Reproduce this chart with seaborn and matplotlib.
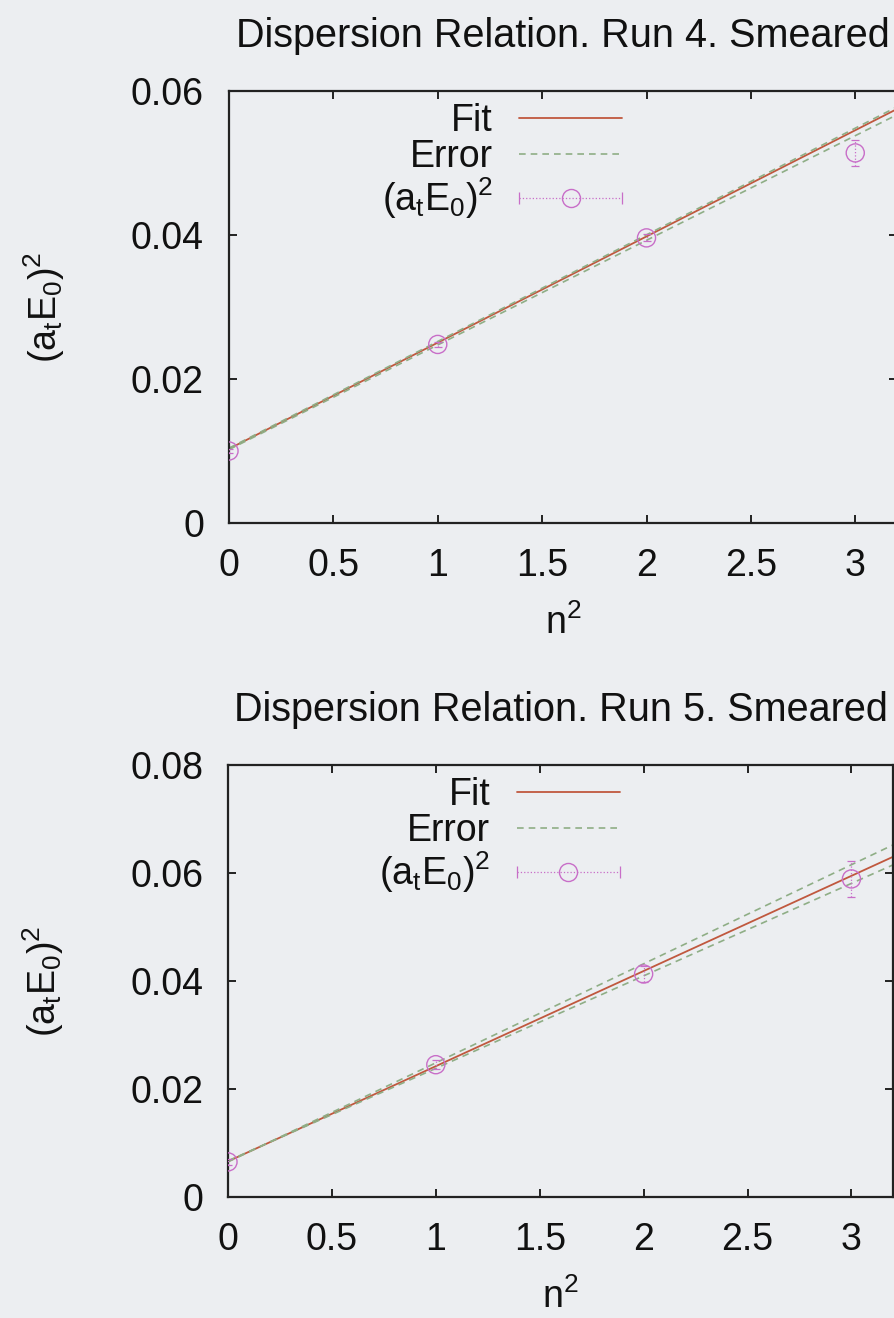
import matplotlib
matplotlib.use("Agg")
import matplotlib.pyplot as plt
import seaborn as sns
import pandas as pd
from matplotlib.lines import Line2D
from matplotlib.legend_handler import HandlerLine2D, HandlerTuple

# ---------------- data ----------------
n2 = [0, 1, 2, 3]

run4_E2 = [0.0100, 0.0248, 0.0396, 0.0514]
run4_err = [0.0003, 0.0004, 0.0005, 0.0018]
run4_fit_x = [0.0, 3.2]
run4_fit = [0.0103, 0.0575]
run4_err_lo = [0.0102, 0.0567]
run4_err_hi = [0.0104, 0.0578]

run5_E2 = [0.0065, 0.0245, 0.0413, 0.0589]
run5_err = [0.0006, 0.0008, 0.0015, 0.0034]
run5_fit_x = [0.0, 3.2]
run5_fit = [0.0066, 0.0630]
run5_err_lo = [0.0067, 0.0615]
run5_err_hi = [0.0065, 0.0652]

x_ticks = [0, 0.5, 1, 1.5, 2, 2.5, 3]
x_ticklabels = ["0", "0.5", "1", "1.5", "2", "2.5", "3"]
run4_yticks = [0, 0.02, 0.04, 0.06]
run4_yticklabels = ["0", "0.02", "0.04", "0.06"]
run5_yticks = [0, 0.02, 0.04, 0.06, 0.08]
run5_yticklabels = ["0", "0.02", "0.04", "0.06", "0.08"]

titles = ["Dispersion Relation. Run 4. Smeared", "Dispersion Relation. Run 5. Smeared"]
legend_labels = ["Fit", "Error", r"$\mathregular{(a_tE_0)^2}$"]
xlabel = r"$\mathregular{n^2}$"
ylabel = r"$\mathregular{(a_tE_0)^2}$"

# ---------------- style ----------------
BG = "#eceef1"
FIT_C = "#c0583e"
ERR_C = "#8fae86"
PT_C = "#c86ec8"
AX_C = "#222222"
TXT_C = "#111111"
FS = 27

sns.set_theme(style="ticks")
plt.rcParams["font.family"] = ["Liberation Sans", "DejaVu Sans"]
plt.rcParams["mathtext.fontset"] = "custom"
plt.rcParams["mathtext.rm"] = "Liberation Sans"
plt.rcParams["mathtext.it"] = "Liberation Sans:italic"

fig = plt.figure(figsize=(8.94, 13.18), dpi=100, facecolor=BG)
W, H = 894.0, 1318.0

# axes boxes in pixels: left, right, top, bottom
boxes = [(229, 897, 91, 523), (228, 893, 765, 1197)]

panels = [
    (run4_E2, run4_err, run4_fit_x, run4_fit, run4_err_lo, run4_err_hi,
     (0, 0.06), run4_yticks, run4_yticklabels),
    (run5_E2, run5_err, run5_fit_x, run5_fit, run5_err_lo, run5_err_hi,
     (0, 0.08), run5_yticks, run5_yticklabels),
]

for i, (box, pdata) in enumerate(zip(boxes, panels)):
    l, r, t, b = box
    ax = fig.add_axes([l / W, 1 - b / H, (r - l) / W, (b - t) / H])
    ax.set_facecolor(BG)
    E2, err, fx, fy, flo, fhi, ylim, yt, ytl = pdata

    sns.lineplot(x=fx, y=fy, color=FIT_C, linewidth=1.3, ax=ax)
    sns.lineplot(x=fx, y=flo, color=ERR_C, linewidth=1.2,
                 linestyle=(0, (4, 3)), ax=ax)
    sns.lineplot(x=fx, y=fhi, color=ERR_C, linewidth=1.2,
                 linestyle=(0, (4, 3)), ax=ax)

    eb = ax.errorbar(n2, E2, yerr=err, fmt="none", ecolor=PT_C,
                     elinewidth=0.9, capsize=3, capthick=0.9, zorder=3)
    for bl in eb[2]:
        bl.set_linestyle(":")
    df = pd.DataFrame({"n2": n2, "E2": E2})
    sns.scatterplot(data=df, x="n2", y="E2", marker="o", s=170,
                    facecolor="none", edgecolor=PT_C, linewidth=1.0,
                    zorder=4, ax=ax)

    ax.set_xlim(0, 3.2)
    ax.set_ylim(*ylim)
    ax.set_xticks(x_ticks)
    ax.set_xticklabels(x_ticklabels)
    ax.set_yticks(yt)
    ax.set_yticklabels(ytl)
    ax.tick_params(direction="in", length=6, width=1.4, top=True, right=True,
                   labelsize=FS, pad=18, colors=AX_C, labelcolor=TXT_C)
    for s in ax.spines.values():
        s.set_visible(True)
        s.set_linewidth(1.6)
        s.set_color(AX_C)

    ax.set_xlabel(xlabel, fontsize=FS, labelpad=15, color=TXT_C)
    ax.set_ylabel(ylabel, fontsize=FS, labelpad=46, color=TXT_C)
    ax.set_title(titles[i], fontsize=28.5, pad=32, color=TXT_C)

    # legend (gnuplot style: text right-aligned, sample on the right)
    h_fit = Line2D([], [], color=FIT_C, linewidth=1.3)
    h_err = Line2D([], [], color=ERR_C, linewidth=1.2, linestyle=(0, (4, 3)))
    h_bar = Line2D([], [], color=PT_C, linewidth=0.9, linestyle=":",
                   marker="|", markersize=9, markeredgewidth=0.9)
    h_circ = Line2D([], [], color=PT_C, linestyle="none", marker="o",
                    markersize=13, markerfacecolor="none", markeredgewidth=1.0)
    h_pt = (h_bar, h_circ)
    leg = ax.legend(
        [h_fit, h_err, h_pt], legend_labels,
        handler_map={h_bar: HandlerLine2D(numpoints=2, marker_pad=0),
                     h_circ: HandlerLine2D(numpoints=1),
                     tuple: HandlerTuple(ndivide=1)},
        loc="upper right", bbox_to_anchor=(0.589, 0.972),
        frameon=False, markerfirst=False, fontsize=FS,
        handlelength=2.75, handletextpad=0.7, labelspacing=0.0,
        borderpad=0, borderaxespad=0,
    )
    for txt in leg.get_texts():
        txt.set_color(TXT_C)

fig.savefig("out.png", dpi=100, facecolor=BG)
